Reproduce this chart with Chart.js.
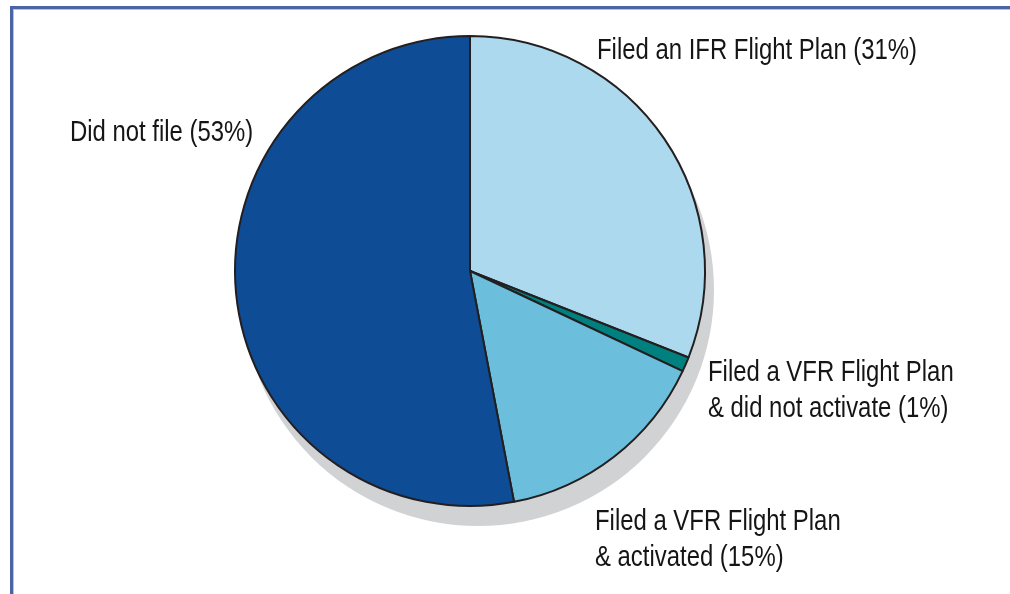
<!DOCTYPE html>
<html>
<head>
<meta charset="utf-8">
<script src="https://cdn.jsdelivr.net/npm/chart.js@4.4.1/dist/chart.umd.min.js"></script>
<style>
  html, body { margin: 0; padding: 0; background: #ffffff; }
  #wrap { position: relative; width: 1010px; height: 594px; overflow: hidden; }
  #c { position: absolute; left: 0; top: 0; }
  #frame { position: absolute; left: 10px; top: 6px; right: -4px; bottom: -4px;
           border-top: 3px solid #4a64a6; border-left: 3px solid #4a64a6; }
  #frame2 { position: absolute; left: 13px; top: 9px; right: 0; bottom: 0;
            border-top: 1px solid #b4c1e0; border-left: 1px solid #b4c1e0; }
</style>
</head>
<body>
<div id="wrap">
  <canvas id="c" width="1010" height="594"></canvas>
  <div id="frame"></div>
  <div id="frame2"></div>
</div>
<script>
// ---- data ----
const categories = [
  'Filed an IFR Flight Plan',
  'Filed a VFR Flight Plan & did not activate',
  'Filed a VFR Flight Plan & activated',
  'Did not file'
];
const shares = [31, 1, 15, 53];
const labelLines = [
  ['Filed an IFR Flight Plan (31%)'],
  ['Filed a VFR Flight Plan', '& did not activate (1%)'],
  ['Filed a VFR Flight Plan', '& activated (15%)'],
  ['Did not file (53%)']
];
const sliceColors = ['#acd9ed', '#00807e', '#6bbfdc', '#0f4c96'];

// ---- styling / placement (relative to pie centre) ----
const labelPos = [
  { dx: 127, dy: -212 },
  { dx: 238, dy: 110 },
  { dx: 125, dy: 259 },
  { dx: -400, dy: -130 }
];
const FONT_PX = 29;
const NARROW = 0.824;
const LINE_H = 36;

const shadowPlugin = {
  id: 'shadow',
  beforeDatasetsDraw(chart) {
    const arc = chart.getDatasetMeta(0).data[0];
    if (!arc) return;
    const ctx = chart.ctx;
    ctx.save();
    ctx.beginPath();
    ctx.arc(arc.x + 8, arc.y + 19, arc.outerRadius + 1, 0, Math.PI * 2);
    ctx.fillStyle = '#d1d2d4';
    ctx.fill();
    ctx.restore();
  }
};

const labelPlugin = {
  id: 'outLabels',
  afterDatasetsDraw(chart) {
    const arc = chart.getDatasetMeta(0).data[0];
    if (!arc) return;
    const cx = arc.x, cy = arc.y;
    const ctx = chart.ctx;
    ctx.save();
    ctx.font = FONT_PX + 'px "Liberation Sans", Arial, sans-serif';
    ctx.fillStyle = '#151515';
    ctx.textBaseline = 'alphabetic';
    ctx.textAlign = 'left';
    labelLines.forEach((lines, i) => {
      const p = labelPos[i];
      lines.forEach((ln, k) => {
        ctx.save();
        ctx.translate(cx + p.dx, cy + p.dy + k * LINE_H);
        ctx.scale(NARROW, 1);
        ctx.fillText(ln, 0, 0);
        ctx.restore();
      });
    });
    ctx.restore();
  }
};

new Chart(document.getElementById('c'), {
  type: 'pie',
  data: {
    labels: categories,
    datasets: [{
      data: shares,
      backgroundColor: sliceColors,
      borderColor: '#231f20',
      borderWidth: 2,
      hoverOffset: 0
    }]
  },
  options: {
    responsive: false,
    animation: false,
    events: [],
    radius: 235,
    layout: { padding: { top: 35, bottom: 87, left: 0, right: 70 } },
    plugins: {
      legend: { display: false },
      tooltip: { enabled: false },
      title: { display: false }
    }
  },
  plugins: [shadowPlugin, labelPlugin]
});
</script>
</body>
</html>
